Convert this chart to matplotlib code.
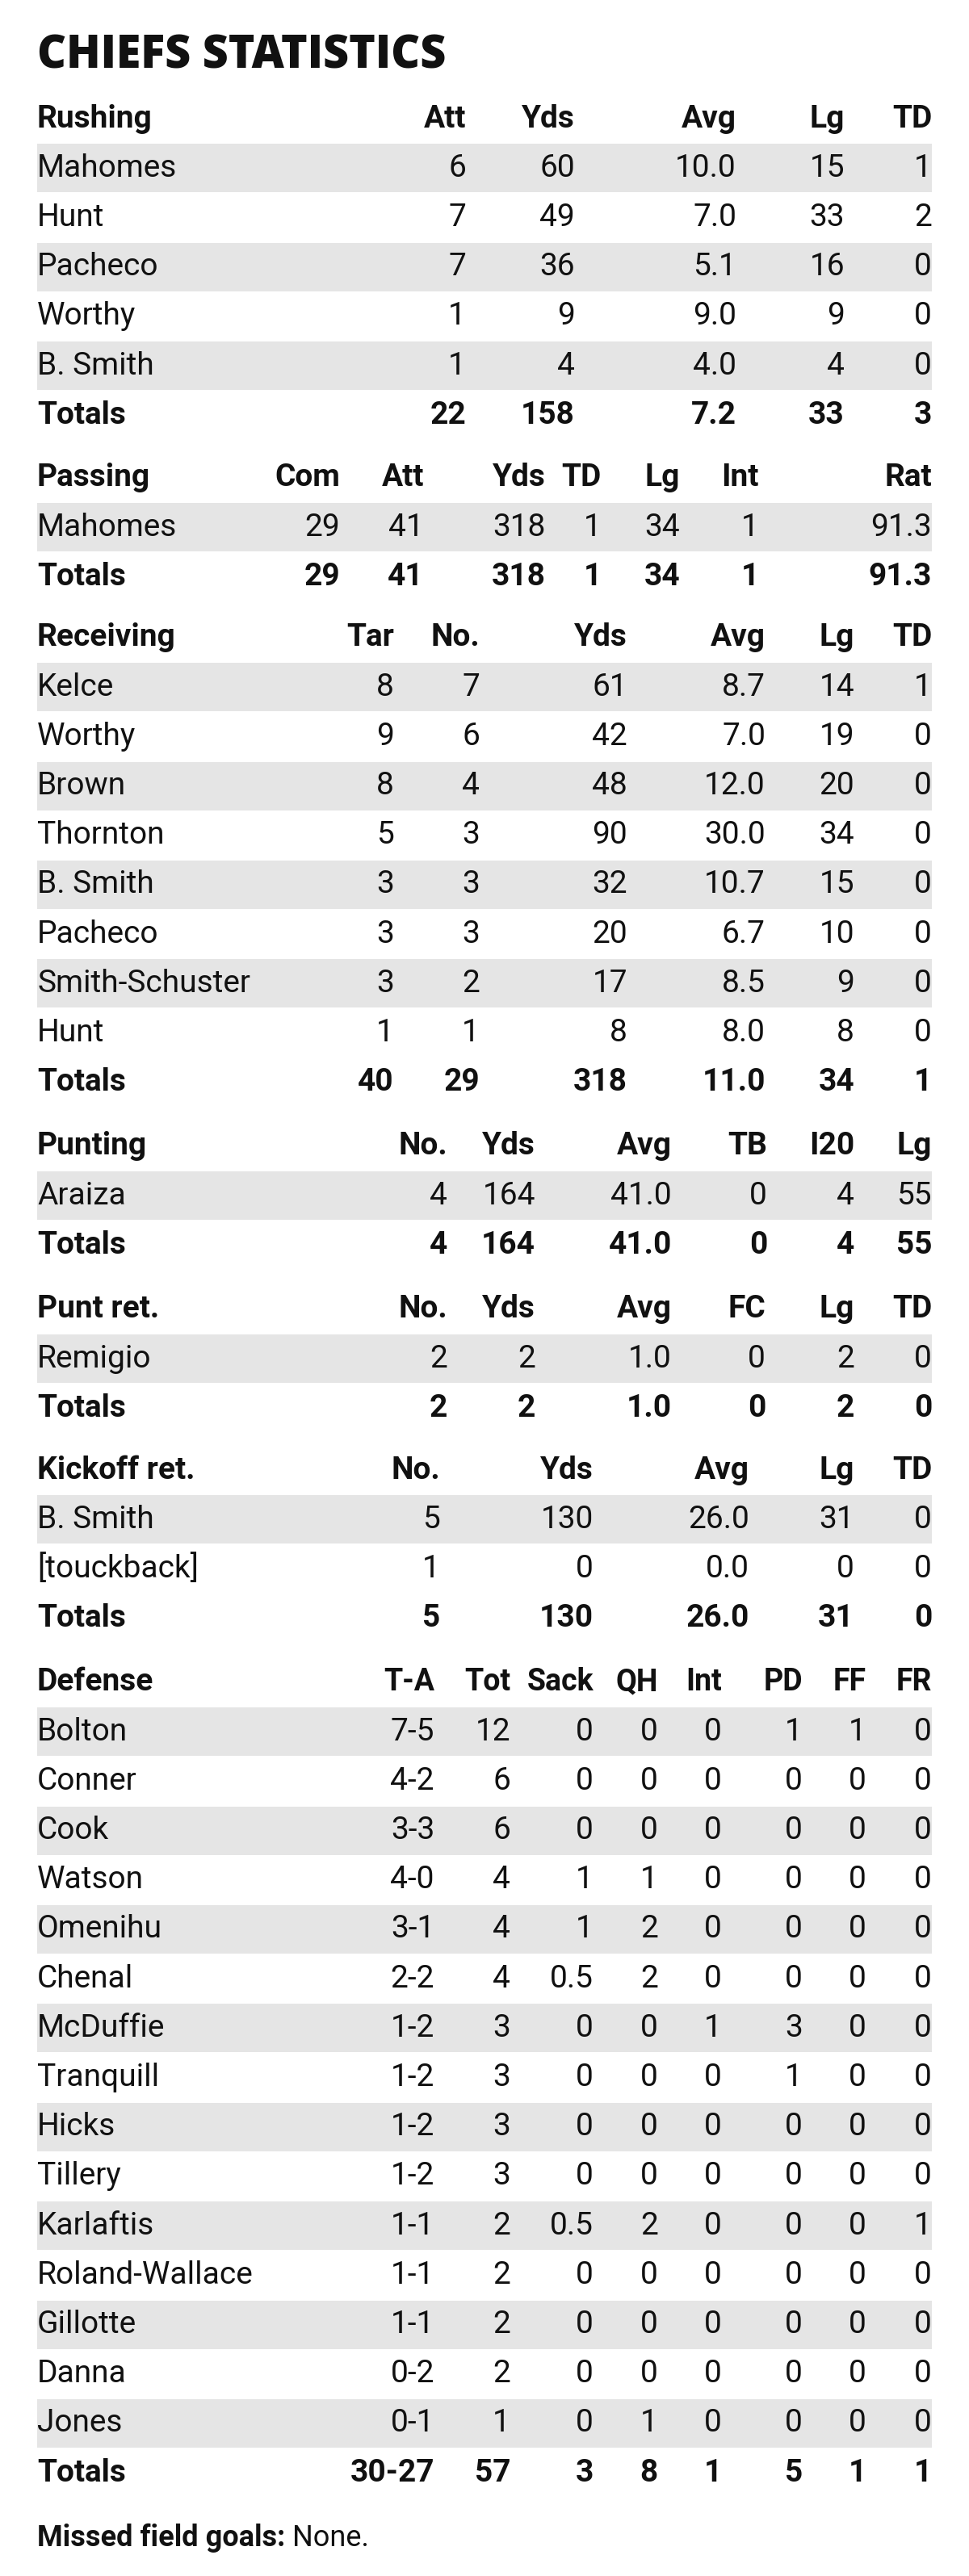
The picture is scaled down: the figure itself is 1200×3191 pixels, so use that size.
import matplotlib
matplotlib.use("Agg")
import matplotlib.pyplot as plt
from matplotlib.patches import Rectangle
from matplotlib import font_manager as fm

names = {f.name for f in fm.fontManager.ttflist}
FONT = 'Liberation Sans Narrow' if 'Liberation Sans Narrow' in names else 'Roboto'
plt.rcParams['font.family'] = [FONT, 'DejaVu Sans']

title = "CHIEFS STATISTICS"

rushing_cols = ["Rushing", "Att", "Yds", "Avg", "Lg", "TD"]
rushing_rows = [["Mahomes", "6", "60", "10.0", "15", "1"],
                ["Hunt", "7", "49", "7.0", "33", "2"],
                ["Pacheco", "7", "36", "5.1", "16", "0"],
                ["Worthy", "1", "9", "9.0", "9", "0"],
                ["B. Smith", "1", "4", "4.0", "4", "0"]]
rushing_tot = ["Totals", "22", "158", "7.2", "33", "3"]

passing_cols = ["Passing", "Com", "Att", "Yds", "TD", "Lg", "Int", "Rat"]
passing_rows = [["Mahomes", "29", "41", "318", "1", "34", "1", "91.3"]]
passing_tot = ["Totals", "29", "41", "318", "1", "34", "1", "91.3"]

receiving_cols = ["Receiving", "Tar", "No.", "Yds", "Avg", "Lg", "TD"]
receiving_rows = [["Kelce", "8", "7", "61", "8.7", "14", "1"],
                  ["Worthy", "9", "6", "42", "7.0", "19", "0"],
                  ["Brown", "8", "4", "48", "12.0", "20", "0"],
                  ["Thornton", "5", "3", "90", "30.0", "34", "0"],
                  ["B. Smith", "3", "3", "32", "10.7", "15", "0"],
                  ["Pacheco", "3", "3", "20", "6.7", "10", "0"],
                  ["Smith-Schuster", "3", "2", "17", "8.5", "9", "0"],
                  ["Hunt", "1", "1", "8", "8.0", "8", "0"]]
receiving_tot = ["Totals", "40", "29", "318", "11.0", "34", "1"]

punting_cols = ["Punting", "No.", "Yds", "Avg", "TB", "I20", "Lg"]
punting_rows = [["Araiza", "4", "164", "41.0", "0", "4", "55"]]
punting_tot = ["Totals", "4", "164", "41.0", "0", "4", "55"]

puntret_cols = ["Punt ret.", "No.", "Yds", "Avg", "FC", "Lg", "TD"]
puntret_rows = [["Remigio", "2", "2", "1.0", "0", "2", "0"]]
puntret_tot = ["Totals", "2", "2", "1.0", "0", "2", "0"]

kick_cols = ["Kickoff ret.", "No.", "Yds", "Avg", "Lg", "TD"]
kick_rows = [["B. Smith", "5", "130", "26.0", "31", "0"],
             ["[touckback]", "1", "0", "0.0", "0", "0"]]
kick_tot = ["Totals", "5", "130", "26.0", "31", "0"]

def_cols = ["Defense", "T-A", "Tot", "Sack", "QH", "Int", "PD", "FF", "FR"]
def_rows = [["Bolton", "7-5", "12", "0", "0", "0", "1", "1", "0"],
            ["Conner", "4-2", "6", "0", "0", "0", "0", "0", "0"],
            ["Cook", "3-3", "6", "0", "0", "0", "0", "0", "0"],
            ["Watson", "4-0", "4", "1", "1", "0", "0", "0", "0"],
            ["Omenihu", "3-1", "4", "1", "2", "0", "0", "0", "0"],
            ["Chenal", "2-2", "4", "0.5", "2", "0", "0", "0", "0"],
            ["McDuffie", "1-2", "3", "0", "0", "1", "3", "0", "0"],
            ["Tranquill", "1-2", "3", "0", "0", "0", "1", "0", "0"],
            ["Hicks", "1-2", "3", "0", "0", "0", "0", "0", "0"],
            ["Tillery", "1-2", "3", "0", "0", "0", "0", "0", "0"],
            ["Karlaftis", "1-1", "2", "0.5", "2", "0", "0", "0", "1"],
            ["Roland-Wallace", "1-1", "2", "0", "0", "0", "0", "0", "0"],
            ["Gillotte", "1-1", "2", "0", "0", "0", "0", "0", "0"],
            ["Danna", "0-2", "2", "0", "0", "0", "0", "0", "0"],
            ["Jones", "0-1", "1", "0", "1", "0", "0", "0", "0"]]
def_tot = ["Totals", "30-27", "57", "3", "8", "1", "5", "1", "1"]

sections = [
    (rushing_cols, rushing_rows, rushing_tot, [577, 712, 912, 1046, 1154], 147),
    (passing_cols, passing_rows, passing_tot, [421, 525, 676, 745, 842, 940, 1154], 592),
    (receiving_cols, receiving_rows, receiving_tot, [488, 594, 777, 948, 1058, 1154], 790),
    (punting_cols, punting_rows, punting_tot, [554, 663, 832, 950, 1058, 1154], 1420),
    (puntret_cols, puntret_rows, puntret_tot, [554, 663, 832, 948, 1058, 1154], 1622),
    (kick_cols, kick_rows, kick_tot, [545, 735, 928, 1058, 1154], 1821),
    (def_cols, def_rows, def_tot, [538, 632, 735, 815, 894, 994, 1073, 1154], 2084),
]

W, H = 1200, 3191
fig = plt.figure(figsize=(W / 100, H / 100), dpi=100)
ax = fig.add_axes([0, 0, 1, 1])
ax.set_xlim(0, W)
ax.set_ylim(H, 0)
ax.axis('off')

L, R = 46, 1154
PITCH = 61.2
FS = 28
ax.text(L, 70, title, fontsize=40, fontweight='heavy', va='center', ha='left',
        family=['Open Sans', 'DejaVu Sans'], color='#111111')

for cols, rows, tot, xs, y0 in sections:
    hfs = FS - 1 if len(cols) > 8 else FS
    ax.text(L, y0, cols[0], fontsize=FS, fontweight='bold', va='center', color='#111111')
    for c, x in zip(cols[1:], xs):
        ax.text(x, y0, c, fontsize=hfs, fontweight='bold', va='center', ha='right', color='#111111')
    for i, row in enumerate(rows + [tot]):
        y = y0 + PITCH * (i + 1)
        bold = (i == len(rows))
        if not bold and i % 2 == 0:
            ax.add_patch(Rectangle((L, y - 30), R - L, 60, color='#e5e5e5', lw=0, zorder=0))
        fw = 'bold' if bold else 'normal'
        ax.text(L, y, row[0], fontsize=FS, fontweight=fw, va='center', color='#111111')
        for v, x in zip(row[1:], xs):
            ax.text(x, y, v, fontsize=FS, fontweight=fw, va='center', ha='right', color='#111111')

lab = ax.text(L, 3144, "Missed field goals:", fontsize=FS - 2, fontweight='bold',
              va='center', color='#111111')
ax.annotate(" None.", xy=(1, 0.5), xycoords=lab, fontsize=FS - 2, va='center',
            ha='left', color='#111111')

fig.savefig("out.png", dpi=100, facecolor='white')
